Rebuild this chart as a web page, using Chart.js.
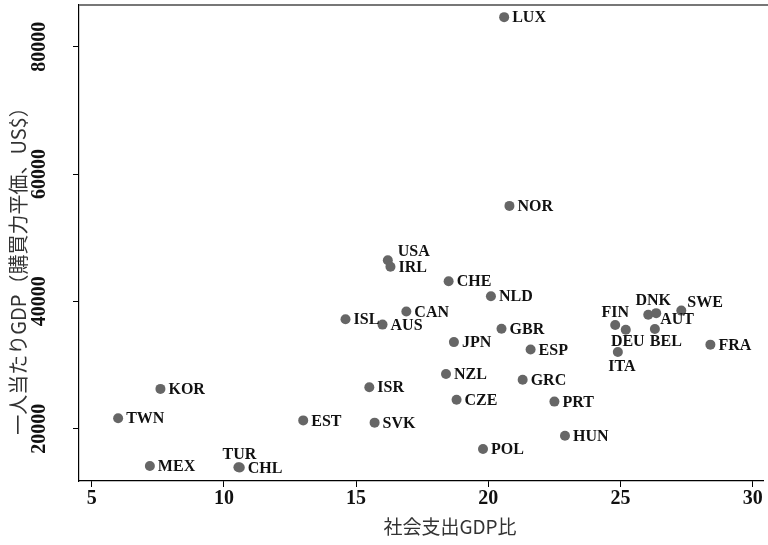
<!DOCTYPE html>
<html>
<head>
<meta charset="utf-8">
<script src="https://cdn.jsdelivr.net/npm/chart.js@4"></script>
<style>
  html, body { margin: 0; padding: 0; background: #fff; }
  #wrap { width: 768px; height: 545px; }
</style>
</head>
<body>
<div id="wrap"><canvas id="chart" width="768" height="545"></canvas></div>
<script>
// 国コード / 社会支出GDP比 (%) / 一人当たりGDP (US$)
const countries = ['LUX', 'NOR', 'USA', 'IRL', 'CHE', 'NLD', 'CAN', 'ISL', 'AUS', 'GBR', 'JPN', 'ESP',
    'FIN', 'DEU', 'DNK', 'AUT', 'BEL', 'SWE', 'ITA', 'FRA', 'KOR', 'TWN', 'EST', 'ISR', 'SVK',
    'MEX', 'TUR', 'CHL', 'NZL', 'GRC', 'CZE', 'PRT', 'HUN', 'POL'];
const socialSpending = [20.6, 20.8, 16.2, 16.3, 18.5, 20.1, 16.9, 14.6, 16.0, 20.5, 18.7, 21.6,
    24.8, 25.2, 26.05, 26.35, 26.3, 27.3, 24.9, 28.4, 7.6, 6.0, 13.0, 15.5, 15.7,
    7.2, 10.55, 10.6, 18.4, 21.3, 18.8, 22.5, 22.9, 19.8];
const gdpPerCapita = [84650, 55000, 46450, 45450, 43150, 40800, 38400, 37200, 36350, 35700, 33600, 32450,
    36300, 35550, 37900, 38150, 35650, 38550, 32050, 33200, 26250, 21650, 21300, 26500, 20950,
    14150, 13950, 13900, 28600, 27700, 24550, 24250, 18900, 16800];
const xTicks = [5, 10, 15, 20, 25, 30];
const yTicks = [20000, 40000, 60000, 80000];
const xTitle = '社会支出GDP比';
const yTitle = '一人当たりGDP（購買力平価、US$）';

// ラベル位置の例外 (dx, dy, align)。それ以外は点の右側
const labelPlacement = {
    USA: [10, -8, 'left'],
    FIN: [0, -12, 'center'],
    DNK: [5, -14, 'center'],
    SWE: [6, -8, 'left'],
    AUT: [4, 7, 'left'],
    DEU: [2, 12, 'center'],
    BEL: [11, 13, 'center'],
    ITA: [4, 15, 'center'],
    TUR: [1, -12, 'center']
};

const points = countries.map((c, i) => ({ x: socialSpending[i], y: gdpPerCapita[i] }));

const pointLabels = {
    id: 'pointLabels',
    afterDatasetsDraw(chart) {
        const ctx = chart.ctx;
        const xs = chart.scales.x;
        const ys = chart.scales.y;
        ctx.save();
        ctx.font = 'bold 16px "Liberation Serif", "Times New Roman", serif';
        ctx.fillStyle = '#111';
        ctx.textBaseline = 'middle';
        countries.forEach((c, i) => {
            const px = xs.getPixelForValue(socialSpending[i]);
            const py = ys.getPixelForValue(gdpPerCapita[i]);
            const p = labelPlacement[c] || [8, 1, 'left'];
            ctx.textAlign = p[2];
            ctx.fillText(c, px + p[0], py + p[1]);
        });
        ctx.restore();
    }
};

const frame = {
    id: 'frame',
    afterDraw(chart) {
        const ctx = chart.ctx;
        const a = chart.chartArea;
        ctx.save();
        // 上枠 (灰色)
        ctx.strokeStyle = '#777';
        ctx.lineWidth = 2;
        ctx.beginPath();
        ctx.moveTo(a.left, a.top);
        ctx.lineTo(chart.width, a.top);
        ctx.stroke();
        // 軸タイトル
        ctx.fillStyle = '#333';
        ctx.font = '19px "Noto Sans CJK JP", "Noto Sans", sans-serif';
        ctx.textAlign = 'center';
        ctx.textBaseline = 'middle';
        ctx.fillText(xTitle, 450, 527);
        ctx.font = '20px "Noto Sans CJK JP", "Noto Sans", sans-serif';
        ctx.translate(18, 266);
        ctx.rotate(-Math.PI / 2);
        ctx.fillText(yTitle, 0, 0);
        ctx.restore();
    }
};

new Chart(document.getElementById('chart').getContext('2d'), {
    type: 'scatter',
    data: {
        datasets: [{
            data: points,
            backgroundColor: '#666',
            borderWidth: 0,
            pointRadius: 5,
            pointHoverRadius: 5
        }]
    },
    options: {
        responsive: false,
        animation: false,
        devicePixelRatio: 1,
        layout: { padding: { top: 5, right: 1, left: 0, bottom: 0 } },
        plugins: {
            legend: { display: false },
            tooltip: { enabled: false }
        },
        scales: {
            x: {
                type: 'linear',
                min: 4.52,
                max: 30.39,
                afterBuildTicks: scale => { scale.ticks = xTicks.map(v => ({ value: v })); },
                afterFit: scale => { scale.height = 64; scale.paddingLeft = 0; scale.paddingRight = 0; },
                grid: { display: true, drawOnChartArea: false, drawTicks: true, tickLength: 6, color: '#000', lineWidth: 1 },
                border: { display: true, color: '#000', width: 1.2 },
                ticks: {
                    color: '#111',
                    padding: 0,
                    maxRotation: 0,
                    font: { family: '"Liberation Serif", serif', size: 20, weight: 'bold' },
                    callback: v => String(v)
                }
            },
            y: {
                type: 'linear',
                min: 11780,
                max: 86560,
                afterBuildTicks: scale => { scale.ticks = yTicks.map(v => ({ value: v })); },
                afterFit: scale => { scale.width = 79; scale.paddingTop = 0; scale.paddingBottom = 0; },
                grid: { display: true, drawOnChartArea: false, drawTicks: true, tickLength: 6, color: '#000', lineWidth: 1 },
                border: { display: true, color: '#000', width: 1.2 },
                ticks: {
                    color: '#111',
                    padding: 8,
                    minRotation: 90,
                    maxRotation: 90,
                    crossAlign: 'center',
                    font: { family: '"Liberation Serif", serif', size: 20, weight: 'bold' },
                    callback: v => String(v)
                }
            }
        }
    },
    plugins: [pointLabels, frame]
});
</script>
</body>
</html>
